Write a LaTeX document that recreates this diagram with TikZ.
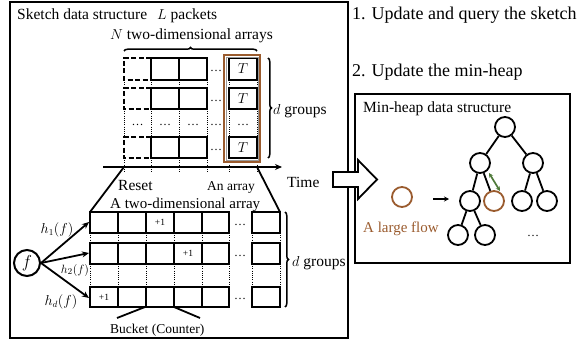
\documentclass[tikz,border=0pt]{standalone}
\usepackage{fontspec}
\setmainfont{Liberation Serif}
\usepackage{xcolor}
\usetikzlibrary{arrows.meta, positioning, calc, decorations.pathreplacing}
\definecolor{heapBrown}{HTML}{9A5B2E}
\definecolor{heapGreen}{HTML}{4F7A3A}
\definecolor{heapGrey}{HTML}{9A9A9A}
\newcommand{\fs}[1]{\fontsize{#1}{#1}\selectfont}

\begin{document}
\begin{tikzpicture}[x=1pt, y=-1pt, font=\fs{15.5}, >={Stealth[length=7pt, width=6pt]},
  cell/.style={draw, line width=2.1pt},
  dashbox/.style={draw, line width=2.1pt, dash pattern=on 5pt off 2.5pt},
  dotline/.style={line width=1pt, dash pattern=on 1pt off 1.2pt},
  txt/.style={inner sep=0pt, anchor=base west},
  dotsl/.style={inner sep=0pt, font=\fs{12}},
  plus/.style={inner sep=0pt, font=\fs{9.5}},
  grpbrace/.style={decorate, decoration={brace, amplitude=3.5pt}, line width=1.5pt},
  heapnode/.style={circle, draw, line width=1.8pt, minimum size=20pt, inner sep=0pt},
  hashfn/.style={->, line width=1.8pt}]
\useasboundingbox (0,0) rectangle (578,345);
% ---- frames
\draw[line width=2pt] (10,2) rectangle (348,338);
\draw[line width=2pt] (355,94) rectangle (570,263);
\node[txt] at (17,20) {Sketch data structure};
\node[txt] at (157,20) {$L$ packets};
\node[txt] at (110,40) {$N$ two-dimensional arrays};
\node[txt, font=\fs{18}] at (352,20) {1. Update and query the sketch};
\node[txt, font=\fs{18}] at (352,77) {2. Update the min-heap};
\draw[grpbrace] (124,51) -- (257,51);
% ---- upper grid: N arrays over time
\foreach \yt/\yb in {58/80, 88/109, 137/158} {
  \draw[dashbox] (151,\yt) -- (124,\yt) -- (124,\yb) -- (151,\yb);
  \foreach \xl/\xr in {151/179, 179/207, 229/257}
    \draw[cell] (\xl,\yt) rectangle (\xr,\yb);
  \node[dotsl] at (216,{(\yt+\yb)/2+2}) {\dots};
  \node[font=\fs{14}, inner sep=0pt] at (243,{(\yt+\yb)/2}) {$T$};
}
\foreach \x in {124,151,179,207,229,257}
  \draw[dotline] (\x,80) -- (\x,88) (\x,109) -- (\x,137) (\x,158) -- (\x,172);
\foreach \x in {137.5,165,193,216,243}
  \node[dotsl] at (\x,125) {\dots};
\draw[heapBrown, line width=2.4pt] (224,55) rectangle (260,162);
\draw[heapGrey, line width=0.6pt] (225.9,56.9) rectangle (258.1,160.1);
\draw[grpbrace] (268,58) -- (268,158);
\node[txt] at (273,114) {$d$ groups};
% ---- time axis
\coordinate (tStart) at (103,167);
\coordinate (tEnd) at (282,167);
\draw[->, line width=1.8pt] (tStart) -- (tEnd);
\node[txt] at (287,187) {Time};
\draw[line width=1.8pt] (124,167) -- (90,212);
\draw[line width=1.8pt] (257,167) -- (280,212);
\node[txt] at (118,190) {Reset};
\node[txt, font=\fs{13.5}] at (207,190) {An array};
\node[txt, font=\fs{15}] at (110,208) {A two-dimensional array};
% ---- lower grid: one two-dimensional array
\foreach \yt/\yb in {212/233, 243/264, 287/307} {
  \foreach \xl/\xr in {90/118, 118/146, 146/174, 174/202, 202/229, 252/280}
    \draw[cell] (\xl,\yt) rectangle (\xr,\yb);
  \node[dotsl] at (240,{(\yt+\yb)/2+2}) {\dots};
}
\foreach \x in {90,118,146,174,202,229,252,280}
  \draw[dotline] (\x,233) -- (\x,243) (\x,264) -- (\x,287);
\node[plus] at (160,222) {+1};
\node[plus] at (188,253.5) {+1};
\node[plus] at (104,297) {+1};
\draw[grpbrace] (285,212) -- (285,307);
\node[txt] at (292,266) {$d$ groups};
% ---- hashing the flow
\node[circle, draw, line width=2pt, minimum size=26pt, inner sep=0pt, font=\fs{16}] (f) at (27,263) {$f$};
\coordinate (row1) at (89,222);
\coordinate (row2) at (89,253);
\coordinate (rowd) at (89,298);
\draw[hashfn] (f.east) -- (row1);
\draw[hashfn] (f.east) -- (row2);
\draw[hashfn] (f.east) -- (rowd);
\node[font=\fs{13.5}, inner sep=0pt] at (57,230) {$h_1(f)$};
\node[font=\fs{13}, inner sep=0pt] at (75,270) {$h_2(f)$};
\node[font=\fs{13.5}, inner sep=0pt] at (61,302) {$h_d(f)$};
\node[txt, font=\fs{13.5}] (bucket) at (110,333) {Bucket (Counter)};
\draw[line width=1.8pt] (145,307) -- (117,318);
\draw[line width=1.8pt] (174,307) -- (200,318);
% ---- hand-over arrow
\draw[line width=1.8pt, fill=white] (333,172) -- (358,172) -- (358,160) -- (377,179.5)
  -- (358,199) -- (358,187) -- (333,187) -- cycle;
% ---- min-heap
\node[txt] at (363,112) {Min-heap data structure};
\node[heapnode] (root) at (505,127) {};
\node[heapnode] (n2l) at (480,163) {};
\node[heapnode] (n2r) at (533,163) {};
\node[heapnode] (n3a) at (470,201) {};
\node[heapnode, draw=heapBrown] (n3b) at (494,201) {};
\node[heapnode] (n3c) at (522,201) {};
\node[heapnode] (n3d) at (547,201) {};
\node[heapnode] (n4a) at (458,235) {};
\node[heapnode] (n4b) at (485,235) {};
\node[dotsl] at (533,236) {\dots};
\foreach \a/\b in {root/n2l, root/n2r, n2l/n3a, n2l/n3b, n2r/n3c, n2r/n3d, n3a/n4a, n3a/n4b}
  \draw[line width=1.8pt] (\a) -- (\b);
\node[heapnode, draw=heapBrown] (flow) at (402,197) {};
\node[txt, text=heapBrown, font=\fs{15}] at (363,232) {A large flow};
\coordinate (flowOut) at (433,199);
\coordinate (flowIn) at (449,199);
\draw[->, line width=1.5pt, >={Stealth[length=5pt, width=5pt]}] (flowOut) -- (flowIn);
\coordinate (swapA) at (489,173);
\coordinate (swapB) at (500,191);
\draw[<->, heapGreen, line width=1.7pt, >={Stealth[length=4.5pt, width=4.5pt]}] (swapA) -- (swapB);
\end{tikzpicture}
\end{document}
